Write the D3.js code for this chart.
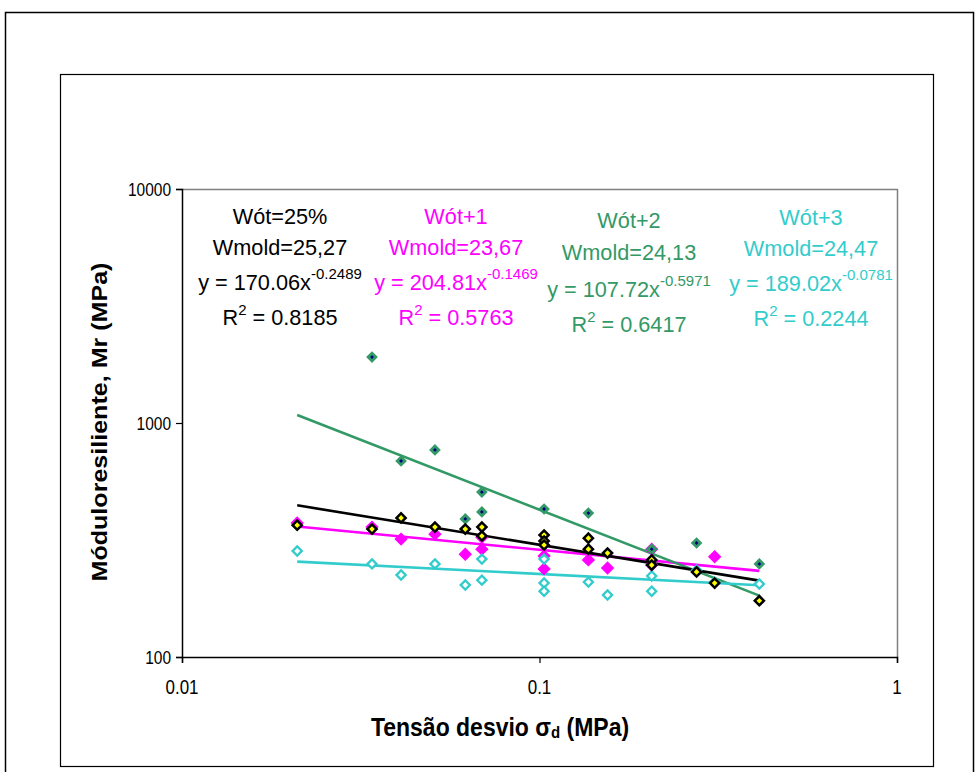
<!DOCTYPE html>
<html>
<head>
<meta charset="utf-8">
<script src="https://cdn.jsdelivr.net/npm/d3@7"></script>
<style>
  html, body { margin: 0; padding: 0; background: #fff; }
  svg { display: block; font-family: "Liberation Sans", Arial, sans-serif; }
</style>
</head>
<body>
<svg id="chart" width="975" height="772"></svg>
<script>
// Resilient modulus vs. deviator stress, four moisture contents (log-log)
const seriesNames = ["Wót=25%", "Wót+1", "Wót+2", "Wót+3"];
const wmoldLabels = ["Wmold=25,27", "Wmold=23,67", "Wmold=24,13", "Wmold=24,47"];
const coefA = [170.06, 204.81, 107.72, 189.02];
const coefB = [-0.2489, -0.1469, -0.5971, -0.0781];
const rSquared = [0.8185, 0.5763, 0.6417, 0.2244];
const seriesColors = ["#000000", "#FF00FF", "#339966", "#33CCCC"];

// Measured points (σd in MPa, Mr in MPa)
const sdOt = [0.021, 0.034, 0.041, 0.051, 0.062, 0.069, 0.069, 0.103, 0.103, 0.103, 0.137, 0.137, 0.155, 0.206, 0.206, 0.275, 0.309, 0.412];
const mrOt = [366, 352, 393, 359, 352, 359, 329, 332, 313, 301, 322, 289, 278, 260, 247, 231, 207, 174];

const sdP1 = [0.021, 0.034, 0.041, 0.051, 0.062, 0.069, 0.069, 0.103, 0.103, 0.137, 0.155, 0.206, 0.206, 0.309];
const mrP1 = [374, 359, 319, 335, 275, 289, 325, 270, 238, 260, 240, 289, 247, 268];

const sdP2 = [0.034, 0.041, 0.051, 0.062, 0.069, 0.069, 0.103, 0.137, 0.206, 0.275, 0.412];
const mrP2 = [1914, 688, 767, 389, 507, 417, 429, 412, 289, 307, 250];

const sdP3 = [0.021, 0.034, 0.041, 0.051, 0.062, 0.069, 0.069, 0.103, 0.103, 0.103, 0.137, 0.155, 0.206, 0.206, 0.275, 0.309, 0.412];
const mrP3 = [284, 250, 224, 250, 203, 262, 213, 262, 207, 191, 209, 184, 222, 191, 235, 209, 205];

const xTicks = [0.01, 0.1, 1];
const xTickLabels = ["0.01", "0.1", "1"];
const yTicks = [100, 1000, 10000];
const yTickLabels = ["100", "1000", "10000"];
const trendRange = [0.021, 0.412];

const svg = d3.select("#chart");

// outer and inner frames
svg.append("rect").attr("x", 5.5).attr("y", 12.5).attr("width", 968).attr("height", 780)
  .attr("fill", "none").attr("stroke", "#000").attr("stroke-width", 1.5);
svg.append("rect").attr("x", 60.5).attr("y", 74.5).attr("width", 873).attr("height", 692)
  .attr("fill", "none").attr("stroke", "#000").attr("stroke-width", 1.2);

const plot = { left: 182, right: 897, top: 189, bottom: 657 };
const x = d3.scaleLog().domain([0.01, 1]).range([plot.left, plot.right]);
const y = d3.scaleLog().domain([100, 10000]).range([plot.bottom, plot.top]);

// plot-area border (top/right gray)
svg.append("path")
  .attr("d", `M${plot.left},${plot.top + 0.5}H${plot.right + 0.5}V${plot.bottom}`)
  .attr("fill", "none").attr("stroke", "#808080").attr("stroke-width", 1.5);

// axes (lines and ticks)
const xAxis = d3.axisBottom(x).tickValues(xTicks).tickFormat("").tickSize(6);
const yAxis = d3.axisLeft(y).tickValues(yTicks).tickFormat("").tickSize(6);
const gx = svg.append("g").attr("transform", `translate(0,${plot.bottom})`).call(xAxis);
const gy = svg.append("g").attr("transform", `translate(${plot.left},0)`).call(yAxis);
[gx, gy].forEach(g => {
  g.select(".domain").attr("stroke", "#000").attr("stroke-width", 1.5);
  g.selectAll(".tick line").attr("stroke", "#000").attr("stroke-width", 1.2);
});

// tick labels (slightly tall lettering)
const stretch = 1.15;
svg.append("g").selectAll("text").data(xTicks).join("text")
  .attr("transform", d => `translate(${x(d)},694) scale(1,${stretch})`)
  .attr("text-anchor", "middle").attr("font-size", 17)
  .text((d, i) => xTickLabels[i]);
svg.append("g").selectAll("text").data(yTicks).join("text")
  .attr("transform", d => `translate(171,${y(d) + 6.5}) scale(1,${stretch})`)
  .attr("text-anchor", "end").attr("font-size", 15.5)
  .text((d, i) => yTickLabels[i]);

// axis titles
svg.append("text")
  .attr("transform", `translate(107,${(plot.top + plot.bottom) / 2 - 1}) rotate(-90) scale(1.1,1)`)
  .attr("text-anchor", "middle").attr("font-weight", "bold").attr("font-size", 22.8)
  .text("Móduloresiliente, Mr (MPa)");

const xt = svg.append("text")
  .attr("transform", `translate(500,736) scale(1,1.1)`)
  .attr("text-anchor", "middle").attr("font-weight", "bold").attr("font-size", 23);
xt.append("tspan").text("Tensão desvio σ");
xt.append("tspan").attr("font-size", 15).attr("dy", 2).text("d");
xt.append("tspan").attr("dy", -2).text(" (MPa)");

// trend lines from fitted power laws y = a·x^b
const line = d3.line().x(d => x(d[0])).y(d => y(d[1]));
const drawOrder = [1, 2, 3, 0];
const trendGroup = svg.append("g");
drawOrder.forEach(i => {
  const pts = trendRange.map(s => [s, coefA[i] * Math.pow(s, coefB[i])]);
  trendGroup.append("path").attr("d", line(pts))
    .attr("fill", "none").attr("stroke", seriesColors[i]).attr("stroke-width", 2.6);
});

// markers
const seriesPts = [
  sdOt.map((s, k) => [s, mrOt[k]]),
  sdP1.map((s, k) => [s, mrP1[k]]),
  sdP2.map((s, k) => [s, mrP2[k]]),
  sdP3.map((s, k) => [s, mrP3[k]])
];
const markerStyle = [
  { size: 42, fill: "#FFFF00", stroke: "#000000", sw: 2.5 },
  { size: 72, fill: "#FF00FF", stroke: "#FF00FF", sw: 1 },
  { size: 30, fill: "#000080", stroke: "#339966", sw: 2.8 },
  { size: 42, fill: "#FFFFFF", stroke: "#33CCCC", sw: 2.3 }
];
const sym = d3.symbol().type(d3.symbolSquare);
drawOrder.forEach(i => {
  const st = markerStyle[i];
  svg.append("g").selectAll("path").data(seriesPts[i]).join("path")
    .attr("d", sym.size(st.size)())
    .attr("transform", d => `translate(${x(d[0])},${y(d[1])}) rotate(45)`)
    .attr("fill", st.fill).attr("stroke", st.stroke).attr("stroke-width", st.sw);
});

// fit annotations
const annCx = [280, 456, 629, 811];
const annTop = [224, 224, 228, 225];
const annOffsets = [0, 31, 66, 101];
seriesNames.forEach((name, i) => {
  const g = svg.append("g").attr("fill", seriesColors[i]).attr("font-size", 21.7)
    .attr("text-anchor", "middle");
  const y0 = annTop[i];
  const extra = i === 2 ? [0, 1, 3, 3] : [0, 0, 0, 0];
  g.append("text").attr("x", annCx[i]).attr("y", y0 + annOffsets[0]).text(name);
  g.append("text").attr("x", annCx[i]).attr("y", y0 + annOffsets[1] + extra[1]).text(wmoldLabels[i]);
  const eq = g.append("text").attr("x", annCx[i]).attr("y", y0 + annOffsets[2] + extra[2]);
  eq.append("tspan").text(`y = ${coefA[i].toFixed(2)}x`);
  eq.append("tspan").attr("font-size", 15).attr("dy", -11).text(coefB[i].toFixed(4));
  const r = g.append("text").attr("x", annCx[i]).attr("y", y0 + annOffsets[3] + extra[3]);
  r.append("tspan").text("R");
  r.append("tspan").attr("font-size", 15).attr("dy", -10).text("2");
  r.append("tspan").attr("dy", 10).text(` = ${rSquared[i].toFixed(4)}`);
});
</script>
</body>
</html>
